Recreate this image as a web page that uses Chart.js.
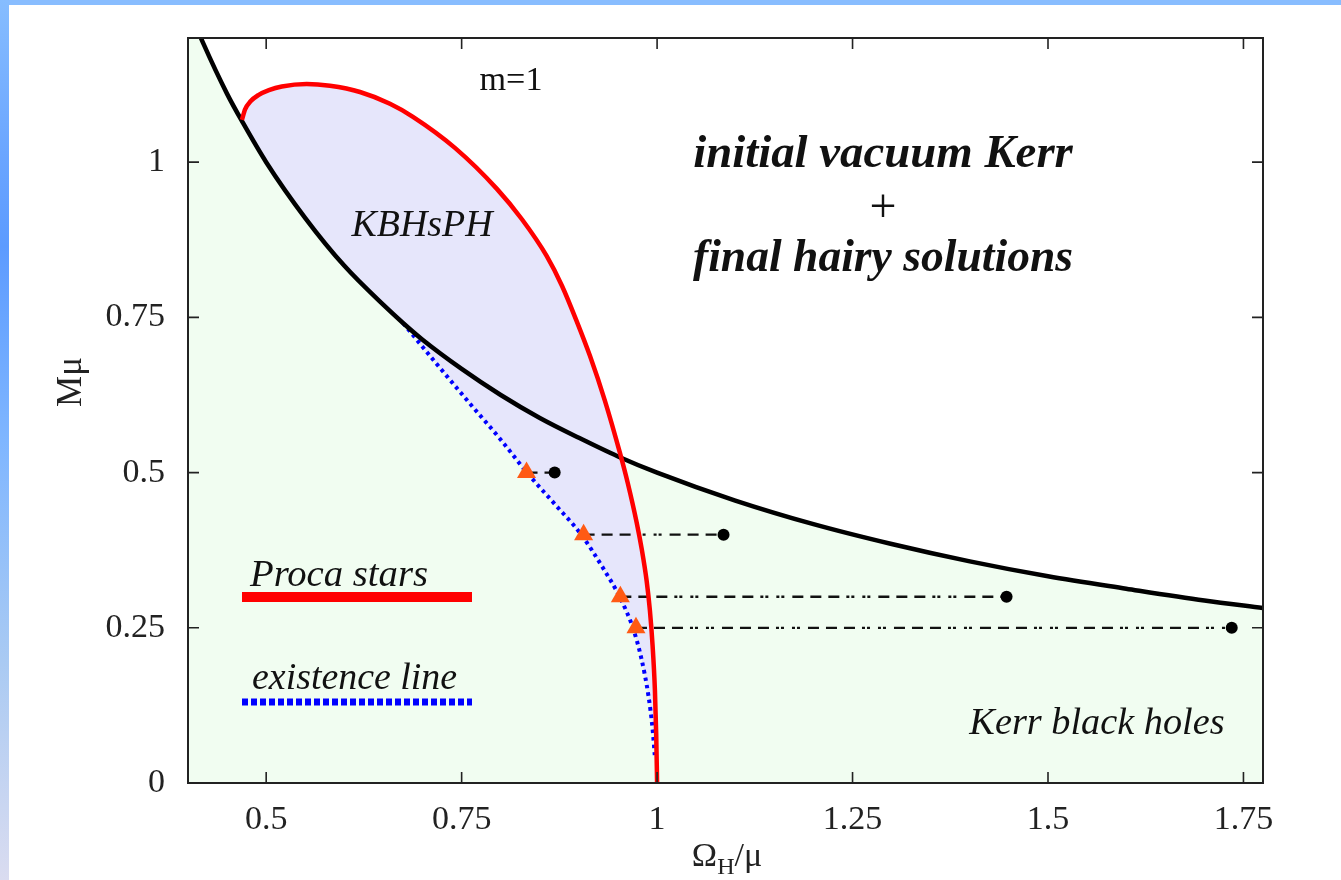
<!DOCTYPE html>
<html>
<head>
<meta charset="utf-8">
<script src="https://cdn.jsdelivr.net/npm/chart.js@4.4.0/dist/chart.umd.min.js"></script>
<style>
  html, body { margin: 0; padding: 0; background: #fff; }
  #frame { position: relative; width: 1341px; height: 880px; overflow: hidden; background: #fff; }
  #topBar { position: absolute; left: 0; top: 0; width: 1341px; height: 5px; background: #88bdff; }
  #leftBar { position: absolute; left: 0; top: 0; width: 9px; height: 880px;
    background: linear-gradient(to bottom, #86bdff 0%, #6aa5ff 18%, #5c9bff 28%, #7fb6ff 50%, #a9caf3 75%, #dadcf0 100%); }
  canvas { position: absolute; left: 0; top: 0; }
</style>
</head>
<body>
<div id="frame">
  <div id="topBar"></div>
  <div id="leftBar"></div>
  <canvas id="chart" width="1341" height="880"></canvas>
</div>
<script>
// axis ticks
const xTicks = [0.5, 0.75, 1, 1.25, 1.5, 1.75];
const yTicks = [0, 0.25, 0.5, 0.75, 1];

// extremal Kerr line (Omega_H/mu, M mu)
const kerrLine = [
  [0.40, 1.25], [0.42, 1.19], [0.45, 1.11], [0.47, 1.064], [0.50, 1.0],
  [0.55, 0.91], [0.60, 0.833], [0.65, 0.77], [0.675, 0.741], [0.70, 0.714],
  [0.75, 0.667], [0.80, 0.625], [0.85, 0.588], [0.90, 0.556], [0.95, 0.526],
  [1.0, 0.5], [1.1, 0.455], [1.2, 0.417], [1.3, 0.385], [1.4, 0.357],
  [1.5, 0.333], [1.6, 0.313], [1.7, 0.294], [1.775, 0.282]
];

// Proca stars (red)
const procaStars = [
  [0.469, 1.068], [0.473, 1.085], [0.48, 1.098], [0.49, 1.108], [0.5035, 1.116],
  [0.52, 1.122], [0.5518, 1.126], [0.5816, 1.123], [0.62, 1.113], [0.6583, 1.094],
  [0.6877, 1.073], [0.7414, 1.023], [0.7951, 0.957], [0.8271, 0.908], [0.8587, 0.849],
  [0.8783, 0.801], [0.8971, 0.744], [0.9141, 0.688], [0.9332, 0.616], [0.9524, 0.532],
  [0.9627, 0.482], [0.9738, 0.42], [0.9806, 0.375], [0.9866, 0.326], [0.9908, 0.278],
  [0.9942, 0.222], [0.9972, 0.15], [0.9989, 0.077], [1.0, 0]
];

// existence line (blue dotted)
const existenceLine = [
  [0.675, 0.741], [0.72, 0.672], [0.76, 0.612], [0.80, 0.553], [0.8335, 0.50],
  [0.87, 0.448], [0.903, 0.40], [0.93, 0.348], [0.952, 0.30], [0.969, 0.25],
  [0.98, 0.20], [0.989, 0.14], [0.994, 0.09], [0.997, 0.045]
];

// evolutions: initial Kerr (dots) -> final hairy (triangles)
const levels = [0.5, 0.4, 0.3, 0.25];
const finalOmega = [0.833, 0.906, 0.953, 0.973];
const initialOmega = [0.869, 1.085, 1.447, 1.735];

const pts = arr => arr.map(p => ({x: p[0], y: p[1]}));

// lavender region: red curve, back along existence line, back up the Kerr line
const kbhsphEdge = kerrLine.filter(p => p[0] > procaStars[0][0] && p[0] < existenceLine[0][0]);
const kbhsph = procaStars.concat(existenceLine.slice().reverse(), kbhsphEdge.slice().reverse());

const FONT = '"Liberation Serif", "Times New Roman", serif';

const connectors = levels.map((m, i) => ({
  data: [{x: finalOmega[i], y: m}, {x: initialOmega[i], y: m}],
  showLine: true, pointRadius: 0, borderColor: '#111', borderWidth: 2.3,
  borderDash: [11, 7, 11, 7, 11, 7, 3, 2, 3, 8, 3, 2, 3, 8],
  fill: false, order: 4, clip: 0
}));

const notes = [
  {text: 'm=1', style: '', w: 63, x: 511, y: 90, align: 'center'},
  {text: 'KBHsPH', style: 'italic', w: 141, x: 422, y: 236, align: 'center'},
  {text: 'initial vacuum Kerr', style: 'italic bold', w: 380, x: 883, y: 167, align: 'center'},
  {text: '+', style: '', w: 27, x: 883, y: 222, align: 'center'},
  {text: 'final hairy solutions', style: 'italic bold', w: 380, x: 883, y: 271, align: 'center'},
  {text: 'Proca stars', style: 'italic', w: 178, x: 250, y: 586, align: 'left'},
  {text: 'existence line', style: 'italic', w: 205, x: 252, y: 689, align: 'left'},
  {text: 'Kerr black holes', style: 'italic', w: 255, x: 1097, y: 734, align: 'center'}
];

function fitSize(ctx, text, style, width) {
  ctx.font = style + ' 100px ' + FONT;
  return 100 * width / ctx.measureText(text).width;
}

const decor = {
  id: 'decor',
  afterDatasetsDraw(chart) {
    const {ctx, chartArea: a, scales: {x, y}} = chart;
    ctx.save();
    // legend samples
    ctx.lineCap = 'butt';
    ctx.strokeStyle = '#ff0000'; ctx.lineWidth = 10;
    ctx.beginPath(); ctx.moveTo(242, 597); ctx.lineTo(472, 597); ctx.stroke();
    ctx.strokeStyle = '#0000ff'; ctx.lineWidth = 7; ctx.setLineDash([6, 3]);
    ctx.beginPath(); ctx.moveTo(242, 702); ctx.lineTo(472, 702); ctx.stroke();
    ctx.setLineDash([]);
    // frame and inward ticks
    ctx.strokeStyle = '#222'; ctx.lineWidth = 2;
    ctx.strokeRect(a.left, a.top, a.right - a.left, a.bottom - a.top);
    ctx.lineWidth = 1.6;
    ctx.beginPath();
    xTicks.forEach(v => {
      const px = x.getPixelForValue(v);
      ctx.moveTo(px, a.bottom); ctx.lineTo(px, a.bottom - 11);
      ctx.moveTo(px, a.top); ctx.lineTo(px, a.top + 11);
    });
    yTicks.forEach(v => {
      const py = y.getPixelForValue(v);
      ctx.moveTo(a.left, py); ctx.lineTo(a.left + 11, py);
      ctx.moveTo(a.right, py); ctx.lineTo(a.right - 11, py);
    });
    ctx.stroke();
    // annotations
    ctx.fillStyle = '#111';
    ctx.textBaseline = 'alphabetic';
    notes.forEach(n => {
      const size = fitSize(ctx, n.text, n.style, n.w);
      ctx.font = n.style + ' ' + size.toFixed(1) + 'px ' + FONT;
      ctx.textAlign = n.align;
      ctx.fillText(n.text, n.x, n.y);
    });
    ctx.restore();
  },
  afterDraw(chart) {
    const {ctx} = chart;
    ctx.save();
    ctx.fillStyle = '#222';
    // y title
    ctx.translate(72, 382);
    ctx.rotate(-Math.PI / 2);
    ctx.font = '35px ' + FONT;
    ctx.textAlign = 'center';
    ctx.textBaseline = 'middle';
    ctx.fillText('M\u03bc', 0, 0);
    ctx.restore();
    // x title with subscript
    ctx.save();
    ctx.fillStyle = '#222';
    ctx.textBaseline = 'alphabetic';
    ctx.textAlign = 'left';
    const big = '34px ' + FONT, small = '24px ' + FONT;
    ctx.font = big; const wO = ctx.measureText('\u03a9').width, wM = ctx.measureText('/\u03bc').width;
    ctx.font = small; const wH = ctx.measureText('H').width;
    let cx = 727 - (wO + wH + wM) / 2;
    const base = 866;
    ctx.font = big; ctx.fillText('\u03a9', cx, base); cx += wO;
    ctx.font = small; ctx.fillText('H', cx, base + 8); cx += wH;
    ctx.font = big; ctx.fillText('/\u03bc', cx, base);
    ctx.restore();
  }
};

new Chart(document.getElementById('chart'), {
  type: 'scatter',
  data: {
    datasets: [
      { // triangles: final hairy solutions
        data: levels.map((m, i) => ({x: finalOmega[i], y: m})),
        pointStyle: 'triangle', pointRadius: 11, backgroundColor: '#ff5a14',
        borderWidth: 0, order: 0, clip: false
      },
      { // dots: initial Kerr
        data: levels.map((m, i) => ({x: initialOmega[i], y: m})),
        pointStyle: 'circle', pointRadius: 6, backgroundColor: '#000',
        borderWidth: 0, order: 0, clip: false
      },
      { // Proca stars
        data: pts(procaStars), showLine: true, pointRadius: 0,
        borderColor: '#ff0000', borderWidth: 4.5, cubicInterpolationMode: 'monotone',
        fill: false, order: 1, clip: 2
      },
      { // Kerr line
        data: pts(kerrLine), showLine: true, pointRadius: 0,
        borderColor: '#000', borderWidth: 4.5, cubicInterpolationMode: 'monotone',
        fill: false, order: 2, clip: 0
      },
      { // existence line
        data: pts(existenceLine), showLine: true, pointRadius: 0,
        borderColor: '#0000ff', borderWidth: 4, borderDash: [3.5, 4],
        cubicInterpolationMode: 'monotone', fill: false, order: 3, clip: 0
      },
      ...connectors,
      { // KBHsPH region
        data: pts(kbhsph), showLine: true, pointRadius: 0, borderWidth: 0,
        backgroundColor: '#e6e6fb', fill: 'shape', tension: 0, order: 5, clip: 0
      },
      { // Kerr black holes region
        data: pts(kerrLine), showLine: true, pointRadius: 0, borderWidth: 0,
        backgroundColor: '#f1fdf1', fill: 'origin', tension: 0, order: 6, clip: 0
      }
    ]
  },
  options: {
    responsive: false,
    animation: false,
    layout: { padding: { top: 38, right: 78, left: 0, bottom: 0 } },
    plugins: { legend: { display: false }, tooltip: { enabled: false } },
    scales: {
      x: {
        type: 'linear', min: 0.4, max: 1.775,
        afterBuildTicks: s => { s.ticks = xTicks.map(v => ({value: v})); },
        afterFit: s => { s.height = 97; },
        grid: { display: false }, border: { display: false },
        ticks: {
          font: { family: FONT, size: 34 }, color: '#222', padding: 9,
          maxRotation: 0, autoSkip: false, callback: v => String(v)
        }
      },
      y: {
        type: 'linear', min: 0, max: 1.2,
        afterBuildTicks: s => { s.ticks = yTicks.map(v => ({value: v})); },
        afterFit: s => { s.width = 188; },
        grid: { display: false }, border: { display: false },
        ticks: {
          font: { family: FONT, size: 34 }, color: '#222', padding: 15,
          autoSkip: false, callback: v => String(v)
        }
      }
    }
  },
  plugins: [decor]
});
</script>
</body>
</html>
